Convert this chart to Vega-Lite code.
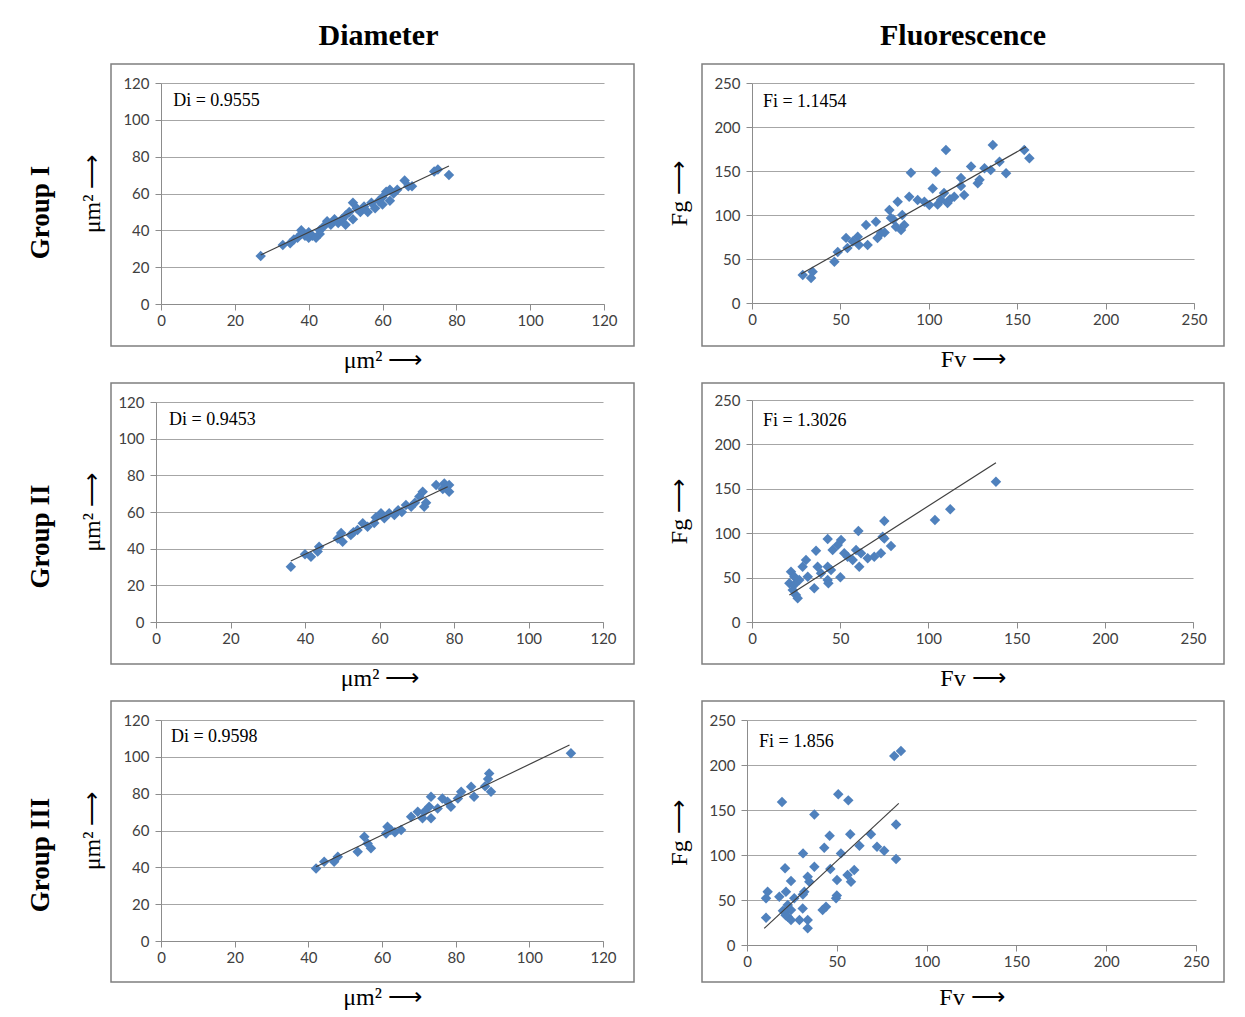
{
  "$schema": "https://vega.github.io/schema/vega-lite/v6.json",
  "background": "white",
  "padding": {"left": 27, "top": 20, "right": 5, "bottom": 5},
  "spacing": 9,
  "datasets": {
    "a1": [{"x":27,"y":26},{"x":33,"y":32},{"x":35,"y":33},{"x":36,"y":35},{"x":37,"y":36},{"x":38,"y":38},{"x":38,"y":40},{"x":39,"y":37},{"x":40,"y":39},{"x":40,"y":36},{"x":41,"y":37},{"x":42,"y":36},{"x":43,"y":38},{"x":43,"y":40},{"x":44,"y":42},{"x":45,"y":45},{"x":46,"y":43},{"x":47,"y":46},{"x":48,"y":44},{"x":49,"y":46},{"x":50,"y":43},{"x":50,"y":48},{"x":51,"y":50},{"x":52,"y":55},{"x":52,"y":46},{"x":53,"y":52},{"x":54,"y":50},{"x":55,"y":53},{"x":56,"y":50},{"x":57,"y":55},{"x":58,"y":52},{"x":59,"y":56},{"x":60,"y":58},{"x":60,"y":54},{"x":61,"y":61},{"x":62,"y":62},{"x":62,"y":56},{"x":63,"y":60},{"x":64,"y":62},{"x":66,"y":67},{"x":67,"y":64},{"x":68,"y":64},{"x":74,"y":72},{"x":75,"y":73},{"x":78,"y":70}],
    "la1": [{"x":27,"y":26.6},{"x":78,"y":74.9}],
    "b1": [{"x":28.7,"y":31.8},{"x":33.4,"y":28.4},{"x":34.3,"y":35.6},{"x":46.6,"y":47},{"x":48.5,"y":58},{"x":53.2,"y":74},{"x":54,"y":62.5},{"x":59.8,"y":75.4},{"x":60.5,"y":66},{"x":65.4,"y":66},{"x":64.5,"y":88.6},{"x":70.1,"y":92.4},{"x":71,"y":73.9},{"x":73,"y":79.5},{"x":77.7,"y":105.7},{"x":78.6,"y":96.6},{"x":82.4,"y":115},{"x":81.4,"y":86.7},{"x":84.3,"y":83},{"x":86.1,"y":88.6},{"x":89.9,"y":148},{"x":88.9,"y":120.8},{"x":93.7,"y":117},{"x":97.5,"y":115},{"x":100.3,"y":111.4},{"x":102.2,"y":130},{"x":104,"y":149},{"x":106.9,"y":117},{"x":108.6,"y":125},{"x":109.7,"y":173.9},{"x":110.6,"y":113.6},{"x":114.4,"y":120.8},{"x":118.2,"y":142},{"x":118.2,"y":133},{"x":120,"y":122.7},{"x":123.9,"y":155},{"x":127.7,"y":136},{"x":128.7,"y":140},{"x":131.5,"y":153},{"x":135,"y":151},{"x":136.2,"y":179.5},{"x":140,"y":160.6},{"x":143.7,"y":147.4},{"x":154,"y":173.9},{"x":156.9,"y":164.4},{"x":80,"y":95},{"x":85,"y":100},{"x":75,"y":80},{"x":57,"y":70},{"x":112,"y":118},{"x":105,"y":112}],
    "lb1": [{"x":27.7,"y":33},{"x":155,"y":177.6}],
    "a2": [{"x":36.2,"y":30.2},{"x":41.6,"y":35.6},{"x":43.4,"y":38.4},{"x":43.8,"y":41},{"x":48.8,"y":45.6},{"x":50.1,"y":43.8},{"x":49.7,"y":48.5},{"x":52.3,"y":47.5},{"x":54.1,"y":50.2},{"x":55.5,"y":53.8},{"x":56.8,"y":52},{"x":58.6,"y":54},{"x":60.4,"y":59.3},{"x":61.3,"y":56.6},{"x":62.6,"y":59.3},{"x":64,"y":58.4},{"x":65,"y":61},{"x":67.1,"y":63.8},{"x":68.5,"y":62.9},{"x":69.5,"y":65},{"x":70.7,"y":68.4},{"x":71.6,"y":71.1},{"x":72,"y":62.9},{"x":72.5,"y":65},{"x":75.2,"y":74.7},{"x":77.4,"y":75.6},{"x":78.7,"y":74.7},{"x":78.7,"y":71.1},{"x":77,"y":72.5},{"x":53,"y":49},{"x":59,"y":57},{"x":66,"y":60},{"x":40,"y":37}],
    "la2": [{"x":36.2,"y":33.3},{"x":78.3,"y":73.8}],
    "b2": [{"x":138.3,"y":158},{"x":112.4,"y":126.9},{"x":103.7,"y":114.9},{"x":75,"y":113.7},{"x":74.1,"y":96},{"x":75,"y":94},{"x":78.8,"y":85.6},{"x":60.3,"y":102.5},{"x":73.1,"y":77.4},{"x":69.3,"y":73.5},{"x":65.6,"y":71.7},{"x":61.8,"y":77.4},{"x":59,"y":81},{"x":60.8,"y":62.3},{"x":57.1,"y":69.8},{"x":54.2,"y":73.5},{"x":50.5,"y":92.3},{"x":42.9,"y":93.5},{"x":48.6,"y":86.7},{"x":45.7,"y":81},{"x":52.3,"y":77.4},{"x":50.1,"y":50.3},{"x":36.3,"y":80.3},{"x":30.6,"y":69.8},{"x":37.2,"y":62.3},{"x":42.9,"y":62.3},{"x":44.8,"y":58.6},{"x":39.1,"y":54.8},{"x":42.9,"y":47.3},{"x":43.3,"y":43.6},{"x":35.3,"y":37.9},{"x":31.6,"y":51},{"x":28.7,"y":62.3},{"x":22.1,"y":56.6},{"x":24,"y":51},{"x":21.2,"y":43.6},{"x":23.1,"y":36},{"x":24.9,"y":30.4},{"x":25.9,"y":26.7},{"x":26.8,"y":47.3},{"x":24,"y":42}],
    "lb2": [{"x":21.2,"y":30.4},{"x":138.3,"y":179.4}],
    "a3": [{"x":111.3,"y":101.9},{"x":89.1,"y":91},{"x":88.8,"y":88},{"x":89.6,"y":81},{"x":88,"y":84},{"x":85,"y":78.3},{"x":84.2,"y":83.7},{"x":81.5,"y":81},{"x":80.6,"y":77.4},{"x":77.8,"y":75.6},{"x":78.7,"y":72.9},{"x":76.4,"y":77.4},{"x":73.3,"y":78.3},{"x":75.1,"y":72},{"x":72.8,"y":72.9},{"x":71.5,"y":70.2},{"x":73.3,"y":66.6},{"x":69.7,"y":70.2},{"x":71,"y":66.6},{"x":67.9,"y":67.5},{"x":65.2,"y":60.3},{"x":62.4,"y":60.3},{"x":61.5,"y":62},{"x":61.1,"y":58.4},{"x":63.5,"y":59},{"x":55.2,"y":56.6},{"x":56.1,"y":53},{"x":57,"y":50.3},{"x":53.4,"y":48.5},{"x":48,"y":45.7},{"x":47,"y":43},{"x":44.3,"y":43},{"x":42.1,"y":39.4}],
    "la3": [{"x":42.1,"y":40.3},{"x":110.9,"y":106.4}],
    "b3": [{"x":82,"y":210},{"x":85.7,"y":215.5},{"x":19.5,"y":159},{"x":50.8,"y":167.4},{"x":56.4,"y":160.7},{"x":37.5,"y":145},{"x":83,"y":134},{"x":69,"y":123},{"x":57.5,"y":123},{"x":46,"y":121.4},{"x":62.6,"y":110.3},{"x":72.4,"y":109.2},{"x":76.4,"y":104.8},{"x":43,"y":108},{"x":52.3,"y":101.8},{"x":31.2,"y":101.8},{"x":83,"y":95.5},{"x":37.5,"y":87},{"x":21.2,"y":85.2},{"x":46.4,"y":84.4},{"x":59.7,"y":83.3},{"x":56,"y":77.8},{"x":57.9,"y":70.3},{"x":50.1,"y":72.2},{"x":24.5,"y":71.1},{"x":33.8,"y":75.9},{"x":34.7,"y":70.3},{"x":31.9,"y":59.2},{"x":31.1,"y":56},{"x":11.5,"y":59.2},{"x":10.6,"y":51.9},{"x":18,"y":53.7},{"x":21.7,"y":59.2},{"x":26.3,"y":51.9},{"x":22.7,"y":44.4},{"x":20.8,"y":37},{"x":24.5,"y":38.9},{"x":22.7,"y":31.5},{"x":21.5,"y":33},{"x":24.5,"y":27.8},{"x":29.2,"y":27.8},{"x":33.8,"y":27.8},{"x":33.8,"y":18.5},{"x":44,"y":42.6},{"x":42.1,"y":38.9},{"x":49.6,"y":51.9},{"x":50,"y":55},{"x":10.6,"y":30.4},{"x":31,"y":40.6},{"x":20,"y":38}],
    "lb3": [{"x":9.6,"y":18.5},{"x":84.5,"y":157.4}]
  },
  "vconcat": [
    {
      "title": {"text": "Group I", "orient": "left", "anchor": "middle", "frame": "bounds", "font": "Liberation Serif", "fontSize": 27, "fontWeight": "bold", "color": "#000", "offset": 25, "dx": -16},
      "spacing": 68, "bounds": "flush",
      "hconcat": [
        {
          "width": 523, "height": 282,
          "title": {"text": "Diameter", "anchor": "middle", "frame": "group", "font": "Liberation Serif", "fontSize": 30, "fontWeight": "bold", "color": "#000", "offset": 13, "dx": 6},
          "layer": [
            {"data": {"name": "a1"}, "mark": {"type": "point", "shape": "diamond", "filled": true, "size": 110, "color": "#4f81bd", "opacity": 1},
             "encoding": {
               "x": {"field": "x", "type": "quantitative", "scale": {"domain": [0, 120], "range": [50, 493], "nice": false, "zero": false}, "axis": {"values": [0,20,40,60,80,100,120], "offset": -42, "grid": false, "title": "μm²  ⟶", "titlePadding": 20}},
               "y": {"field": "y", "type": "quantitative", "scale": {"domain": [0, 120], "range": [240, 19], "nice": false, "zero": false}, "axis": {"values": [0,20,40,60,80,100,120], "offset": -50, "grid": true, "title": "μm²  ⟶", "titlePadding": 18}}
             }},
            {"data": {"name": "la1"}, "mark": {"type": "line", "color": "#404040", "strokeWidth": 1.2}, "encoding": {"x": {"field": "x", "type": "quantitative"}, "y": {"field": "y", "type": "quantitative"}}},
            {"data": {"values": [{"label": "Di = 0.9555"}]}, "mark": {"type": "text", "font": "Liberation Serif", "fontSize": 18, "align": "left", "baseline": "middle", "color": "#000"}, "encoding": {"x": {"datum": 3.3, "type": "quantitative"}, "y": {"datum": 110, "type": "quantitative"}, "text": {"field": "label"}}}
          ]
        },
        {
          "width": 522, "height": 282,
          "title": {"text": "Fluorescence", "anchor": "middle", "frame": "group", "font": "Liberation Serif", "fontSize": 30, "fontWeight": "bold", "color": "#000", "offset": 13},
          "layer": [
            {"data": {"name": "b1"}, "mark": {"type": "point", "shape": "diamond", "filled": true, "size": 110, "color": "#4f81bd", "opacity": 1},
             "encoding": {
               "x": {"field": "x", "type": "quantitative", "scale": {"domain": [0, 250], "range": [50, 492], "nice": false, "zero": false}, "axis": {"values": [0,50,100,150,200,250], "offset": -43, "grid": false, "title": "Fv  ⟶", "titlePadding": 20}},
               "y": {"field": "y", "type": "quantitative", "scale": {"domain": [0, 250], "range": [239, 19], "nice": false, "zero": false}, "axis": {"values": [0,50,100,150,200,250], "offset": -50, "grid": true, "title": "Fg  ⟶", "titlePadding": 22}}
             }},
            {"data": {"name": "lb1"}, "mark": {"type": "line", "color": "#404040", "strokeWidth": 1.2}, "encoding": {"x": {"field": "x", "type": "quantitative"}, "y": {"field": "y", "type": "quantitative"}}},
            {"data": {"values": [{"label": "Fi = 1.1454"}]}, "mark": {"type": "text", "font": "Liberation Serif", "fontSize": 18, "align": "left", "baseline": "middle", "color": "#000"}, "encoding": {"x": {"datum": 6.2, "type": "quantitative"}, "y": {"datum": 228, "type": "quantitative"}, "text": {"field": "label"}}}
          ]
        }
      ]
    },
    {
      "title": {"text": "Group II", "orient": "left", "anchor": "middle", "frame": "bounds", "font": "Liberation Serif", "fontSize": 27, "fontWeight": "bold", "color": "#000", "offset": 25},
      "spacing": 68, "bounds": "flush",
      "hconcat": [
        {
          "width": 523, "height": 281,
          "layer": [
            {"data": {"name": "a2"}, "mark": {"type": "point", "shape": "diamond", "filled": true, "size": 110, "color": "#4f81bd", "opacity": 1},
             "encoding": {
               "x": {"field": "x", "type": "quantitative", "scale": {"domain": [0, 120], "range": [45, 492], "nice": false, "zero": false}, "axis": {"values": [0,20,40,60,80,100,120], "offset": -42, "grid": false, "title": "μm²  ⟶", "titlePadding": 20}},
               "y": {"field": "y", "type": "quantitative", "scale": {"domain": [0, 120], "range": [239, 19], "nice": false, "zero": false}, "axis": {"values": [0,20,40,60,80,100,120], "offset": -45, "grid": true, "title": "μm²  ⟶", "titlePadding": 13}}
             }},
            {"data": {"name": "la2"}, "mark": {"type": "line", "color": "#404040", "strokeWidth": 1.2}, "encoding": {"x": {"field": "x", "type": "quantitative"}, "y": {"field": "y", "type": "quantitative"}}},
            {"data": {"values": [{"label": "Di = 0.9453"}]}, "mark": {"type": "text", "font": "Liberation Serif", "fontSize": 18, "align": "left", "baseline": "middle", "color": "#000"}, "encoding": {"x": {"datum": 3.5, "type": "quantitative"}, "y": {"datum": 110, "type": "quantitative"}, "text": {"field": "label"}}}
          ]
        },
        {
          "width": 522, "height": 281,
          "layer": [
            {"data": {"name": "b2"}, "mark": {"type": "point", "shape": "diamond", "filled": true, "size": 110, "color": "#4f81bd", "opacity": 1},
             "encoding": {
               "x": {"field": "x", "type": "quantitative", "scale": {"domain": [0, 250], "range": [50, 491], "nice": false, "zero": false}, "axis": {"values": [0,50,100,150,200,250], "offset": -42, "grid": false, "title": "Fv  ⟶", "titlePadding": 20}},
               "y": {"field": "y", "type": "quantitative", "scale": {"domain": [0, 250], "range": [239, 17], "nice": false, "zero": false}, "axis": {"values": [0,50,100,150,200,250], "offset": -50, "grid": true, "title": "Fg  ⟶", "titlePadding": 22}}
             }},
            {"data": {"name": "lb2"}, "mark": {"type": "line", "color": "#404040", "strokeWidth": 1.2}, "encoding": {"x": {"field": "x", "type": "quantitative"}, "y": {"field": "y", "type": "quantitative"}}},
            {"data": {"values": [{"label": "Fi = 1.3026"}]}, "mark": {"type": "text", "font": "Liberation Serif", "fontSize": 18, "align": "left", "baseline": "middle", "color": "#000"}, "encoding": {"x": {"datum": 6.2, "type": "quantitative"}, "y": {"datum": 226, "type": "quantitative"}, "text": {"field": "label"}}}
          ]
        }
      ]
    },
    {
      "title": {"text": "Group III", "orient": "left", "anchor": "middle", "frame": "bounds", "font": "Liberation Serif", "fontSize": 27, "fontWeight": "bold", "color": "#000", "offset": 25},
      "spacing": 68, "bounds": "flush",
      "hconcat": [
        {
          "width": 523, "height": 281,
          "layer": [
            {"data": {"name": "a3"}, "mark": {"type": "point", "shape": "diamond", "filled": true, "size": 110, "color": "#4f81bd", "opacity": 1},
             "encoding": {
               "x": {"field": "x", "type": "quantitative", "scale": {"domain": [0, 120], "range": [50, 492], "nice": false, "zero": false}, "axis": {"values": [0,20,40,60,80,100,120], "offset": -41, "grid": false, "title": "μm²  ⟶", "titlePadding": 20}},
               "y": {"field": "y", "type": "quantitative", "scale": {"domain": [0, 120], "range": [240, 19], "nice": false, "zero": false}, "axis": {"values": [0,20,40,60,80,100,120], "offset": -50, "grid": true, "title": "μm²  ⟶", "titlePadding": 18}}
             }},
            {"data": {"name": "la3"}, "mark": {"type": "line", "color": "#404040", "strokeWidth": 1.2}, "encoding": {"x": {"field": "x", "type": "quantitative"}, "y": {"field": "y", "type": "quantitative"}}},
            {"data": {"values": [{"label": "Di = 0.9598"}]}, "mark": {"type": "text", "font": "Liberation Serif", "fontSize": 18, "align": "left", "baseline": "middle", "color": "#000"}, "encoding": {"x": {"datum": 2.7, "type": "quantitative"}, "y": {"datum": 110.7, "type": "quantitative"}, "text": {"field": "label"}}}
          ]
        },
        {
          "width": 522, "height": 281,
          "layer": [
            {"data": {"name": "b3"}, "mark": {"type": "point", "shape": "diamond", "filled": true, "size": 110, "color": "#4f81bd", "opacity": 1},
             "encoding": {
               "x": {"field": "x", "type": "quantitative", "scale": {"domain": [0, 250], "range": [45, 494], "nice": false, "zero": false}, "axis": {"values": [0,50,100,150,200,250], "offset": -37, "grid": false, "title": "Fv  ⟶", "titlePadding": 16}},
               "y": {"field": "y", "type": "quantitative", "scale": {"domain": [0, 250], "range": [244, 19], "nice": false, "zero": false}, "axis": {"values": [0,50,100,150,200,250], "offset": -45, "grid": true, "title": "Fg  ⟶", "titlePadding": 17}}
             }},
            {"data": {"name": "lb3"}, "mark": {"type": "line", "color": "#404040", "strokeWidth": 1.2}, "encoding": {"x": {"field": "x", "type": "quantitative"}, "y": {"field": "y", "type": "quantitative"}}},
            {"data": {"values": [{"label": "Fi = 1.856"}]}, "mark": {"type": "text", "font": "Liberation Serif", "fontSize": 18, "align": "left", "baseline": "middle", "color": "#000"}, "encoding": {"x": {"datum": 6.7, "type": "quantitative"}, "y": {"datum": 225.6, "type": "quantitative"}, "text": {"field": "label"}}}
          ]
        }
      ]
    }
  ],
  "config": {
    "view": {"stroke": "#7f7f7f", "strokeWidth": 1.5},
    "axis": {"labelFont": "Lato", "labelFontSize": 15, "labelColor": "#404040", "labelFlush": false, "labelOverlap": false, "domainColor": "#8c8c8c", "tickColor": "#8c8c8c", "tickSize": 6, "gridColor": "#a6a6a6", "gridWidth": 1.2, "titleFont": "Liberation Serif", "titleFontSize": 24, "titleFontWeight": "normal", "titleColor": "#000", "labelPadding": 3},
    "axisY": {"labelPadding": 6}
  }
}
